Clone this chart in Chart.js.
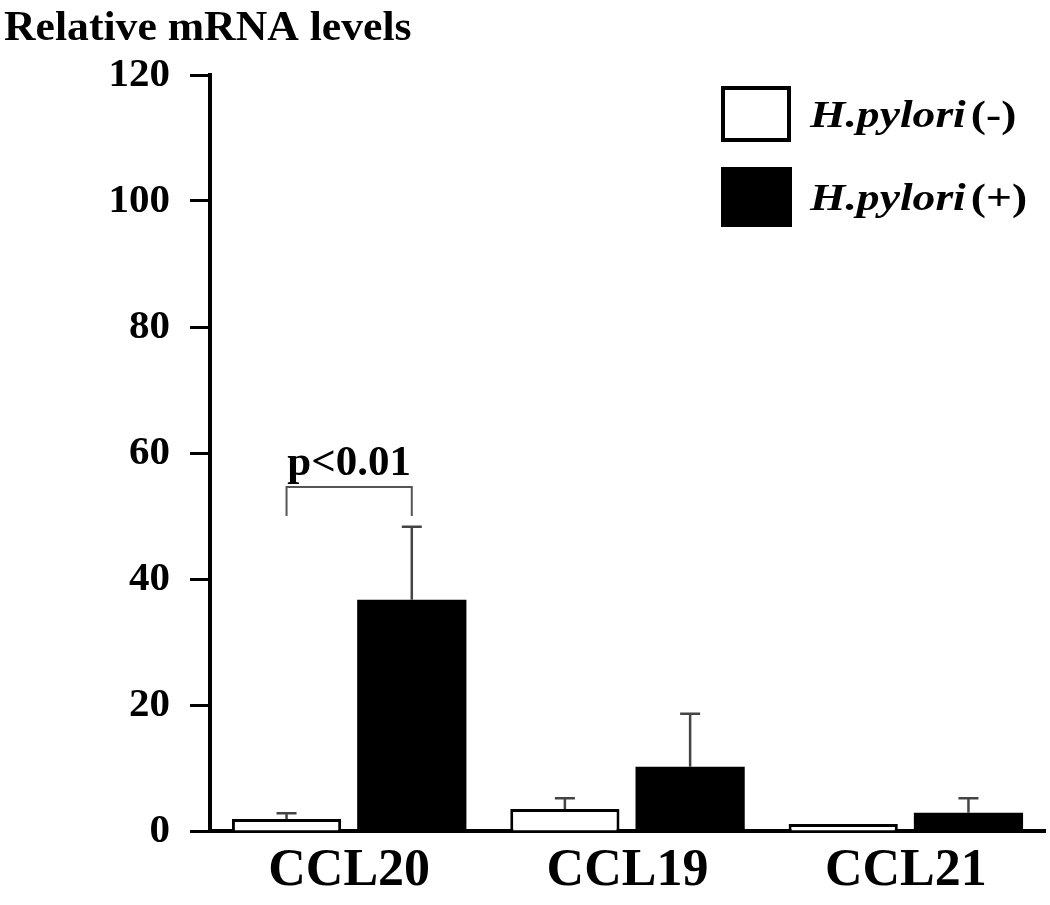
<!DOCTYPE html>
<html>
<head>
<meta charset="utf-8">
<script src="https://cdn.jsdelivr.net/npm/chart.js@4/dist/chart.umd.min.js"></script>
<style>
  html, body { margin: 0; padding: 0; background: #fff; }
  #wrap { width: 1050px; height: 905px; position: relative; }
</style>
</head>
<body>
<div id="wrap"><canvas id="chart" width="1050" height="905"></canvas></div>
<script>
// data
var categories = ['CCL20', 'CCL19', 'CCL21'];
var seriesNames = ['H.pylori', 'H.pylori'];
var seriesSuffix = ['(-)', '(+)'];
var negValues = [1.9, 3.5, 1.1];
var negErrors = [0.9, 1.7, 0];
var posValues = [36.7, 10.2, 2.9];
var posErrors = [11.6, 8.4, 2.3];
var yMin = 0, yMax = 120, yStep = 20;
var axisTitle = 'Relative mRNA levels';
var sigLabel = 'p<0.01';
var sigBracket = [50.0, 54.6]; // leg bottom, bracket top (data units)

var SERIF = '"Liberation Serif", "Times New Roman", serif';
var errors = [negErrors, posErrors];
var values = [negValues, posValues];

function stretchText(ctx, text, x, y, font, sx, align) {
  ctx.save();
  ctx.font = font;
  ctx.textBaseline = 'alphabetic';
  ctx.textAlign = align || 'left';
  ctx.translate(x, y);
  ctx.scale(sx, 1);
  ctx.fillText(text, 0, 0);
  ctx.restore();
}

var errorBars = {
  id: 'errorBars',
  afterDatasetsDraw: function (chart) {
    var ctx = chart.ctx;
    var y = chart.scales.y;
    ctx.save();
    ctx.strokeStyle = '#444';
    ctx.lineWidth = 2.5;
    chart.data.datasets.forEach(function (ds, i) {
      var meta = chart.getDatasetMeta(i);
      meta.data.forEach(function (bar, j) {
        var e = errors[i][j];
        if (!e) return;
        var top = y.getPixelForValue(values[i][j] + e);
        ctx.beginPath();
        ctx.moveTo(bar.x, bar.y);
        ctx.lineTo(bar.x, top);
        ctx.moveTo(bar.x - 10, top);
        ctx.lineTo(bar.x + 10, top);
        ctx.stroke();
      });
    });

    // significance bracket for CCL20
    var a = chart.getDatasetMeta(0).data[0];
    var b = chart.getDatasetMeta(1).data[0];
    var yLeg = y.getPixelForValue(sigBracket[0]);
    var yTop = y.getPixelForValue(sigBracket[1]);
    ctx.lineWidth = 2;
    ctx.strokeStyle = '#555';
    ctx.beginPath();
    ctx.moveTo(a.x, yLeg);
    ctx.lineTo(a.x, yTop);
    ctx.lineTo(b.x, yTop);
    ctx.lineTo(b.x, yLeg);
    ctx.stroke();
    ctx.fillStyle = '#000';
    stretchText(ctx, sigLabel, (a.x + b.x) / 2, yTop - 12, 'bold 43px ' + SERIF, 1.0, 'center');
    ctx.restore();
  }
};

var extras = {
  id: 'extras',
  afterDraw: function (chart) {
    var ctx = chart.ctx;
    ctx.save();
    ctx.fillStyle = '#000';
    stretchText(ctx, axisTitle, 4, 40, 'bold 42px ' + SERIF, 1.04);

    // legend
    var boxes = [[721, 86, 70, 56], [721, 167, 71, 60]];
    chart.data.datasets.forEach(function (ds, i) {
      var bx = boxes[i];
      ctx.fillStyle = ds.backgroundColor;
      ctx.fillRect(bx[0], bx[1], bx[2], bx[3]);
      ctx.strokeStyle = '#000';
      ctx.lineWidth = 4;
      ctx.strokeRect(bx[0] + 2, bx[1] + 2, bx[2] - 4, bx[3] - 4);
      ctx.fillStyle = '#000';
      var base = bx[1] + bx[3] / 2 + 13;
      ctx.font = 'italic bold 38px ' + SERIF;
      var w = ctx.measureText(seriesNames[i]).width * 1.2;
      stretchText(ctx, seriesNames[i], 810, base, 'italic bold 38px ' + SERIF, 1.2);
      stretchText(ctx, seriesSuffix[i], 810 + w + 5, base, 'bold 38px ' + SERIF, 1.2);
    });
    ctx.restore();
  }
};

new Chart(document.getElementById('chart'), {
  type: 'bar',
  data: {
    labels: categories,
    datasets: [
      {
        label: seriesNames[0] + ' ' + seriesSuffix[0],
        data: negValues,
        backgroundColor: '#fff',
        borderColor: '#000',
        borderWidth: 3,
        borderSkipped: 'start'
      },
      {
        label: seriesNames[1] + ' ' + seriesSuffix[1],
        data: posValues,
        backgroundColor: '#000',
        borderColor: '#000',
        borderWidth: 0
      }
    ]
  },
  options: {
    responsive: false,
    animation: false,
    events: [],
    categoryPercentage: 0.9,
    barPercentage: 0.872,
    layout: { padding: { top: 75, right: 5, left: 0, bottom: 0 } },
    plugins: {
      legend: { display: false },
      tooltip: { enabled: false }
    },
    scales: {
      x: {
        grid: { display: false, drawTicks: false },
        border: { display: true, color: '#000', width: 4 },
        ticks: {
          color: '#000',
          padding: 9,
          font: { family: SERIF, size: 52, weight: 'bold' }
        },
        afterFit: function (scale) { scale.height = 74; }
      },
      y: {
        min: yMin,
        max: yMax,
        grid: {
          drawOnChartArea: false,
          drawTicks: true,
          tickLength: 20,
          tickColor: '#000',
          tickWidth: 3
        },
        border: { display: true, color: '#000', width: 4 },
        ticks: {
          stepSize: yStep,
          color: '#000',
          padding: 20,
          font: { family: SERIF, size: 41, weight: 'bold' }
        },
        afterFit: function (scale) { scale.width = 210; }
      }
    }
  },
  plugins: [errorBars, extras]
});
</script>
</body>
</html>
